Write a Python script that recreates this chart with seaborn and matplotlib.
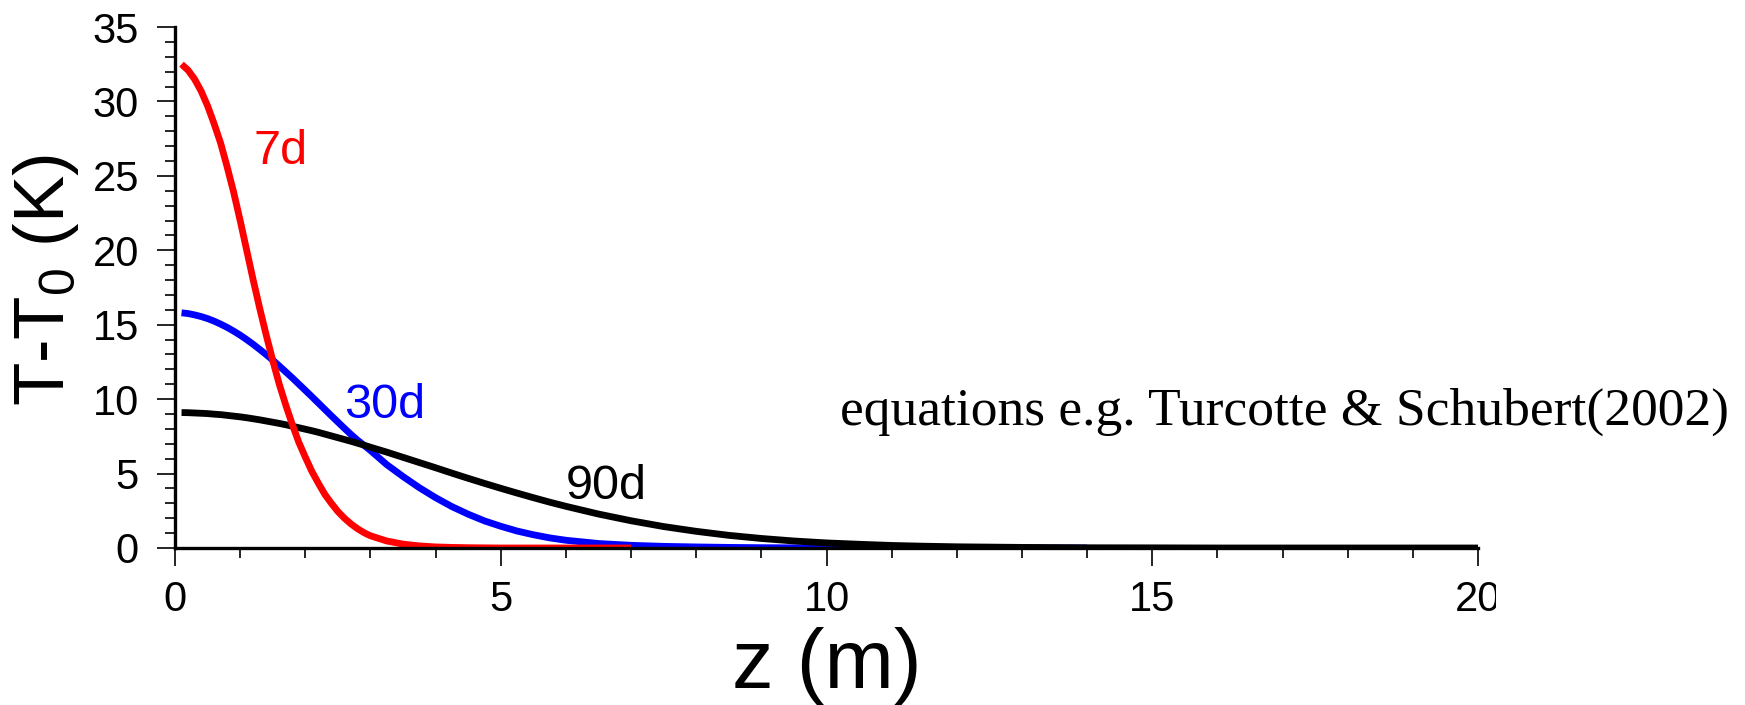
import numpy as np
import pandas as pd
import matplotlib
matplotlib.use("Agg")
import matplotlib.pyplot as plt
import seaborn as sns
from matplotlib.ticker import MultipleLocator
from matplotlib.transforms import Bbox

sns.set_style("ticks")
plt.rcParams["font.family"] = ["Liberation Sans", "DejaVu Sans"]
plt.rcParams["mathtext.default"] = "regular"
for key in ("text.color", "axes.labelcolor", "xtick.color", "ytick.color",
            "axes.edgecolor"):
    plt.rcParams[key] = "black"

# depth below the surface (m)
depth = [0.1, 0.2, 0.3, 0.4, 0.5, 0.6, 0.7, 0.8, 0.9, 1.0,
         1.1, 1.2, 1.3, 1.4, 1.5, 1.6, 1.7, 1.8, 1.9, 2.0,
         2.1, 2.2, 2.3, 2.4, 2.5, 2.6, 2.7, 2.8, 2.9, 3.0,
         3.25, 3.5, 3.75, 4.0, 4.25, 4.5, 4.75, 5.0, 5.25, 5.5, 5.75, 6.0,
         6.5, 7.0, 7.5, 8.0, 8.5, 9.0, 9.5, 10.0, 10.5, 11.0, 11.5, 12.0,
         13.0, 14.0, 15.0, 16.0, 17.0, 18.0, 19.0, 20.0]

nan = np.nan
# temperature excess T - T0 (K) after 7, 30 and 90 days
temp_7d = [32.5, 32.1, 31.5, 30.7, 29.7, 28.5, 27.2, 25.6, 23.9, 22.0,
           20.0, 18.0, 16.1, 14.3, 12.6, 11.0, 9.6, 8.3, 7.1, 6.1,
           5.15, 4.35, 3.6, 3.0, 2.45, 2.0, 1.62, 1.3, 1.03, 0.82,
           0.47, 0.26, 0.14, 0.07, 0.04, 0.02, 0.01, 0.0, 0.0, 0.0, 0.0, 0.0,
           0.0, 0.0] + [nan] * 18
temp_30d = [15.8, 15.75, 15.66, 15.55, 15.41, 15.24, 15.04, 14.82, 14.57, 14.3,
            14.0, 13.68, 13.34, 12.99, 12.62, 12.23, 11.83, 11.43, 11.01, 10.59,
            10.17, 9.74, 9.31, 8.88, 8.46, 8.04, 7.63, 7.25, 6.9, 6.55,
            5.6, 4.8, 4.05, 3.38, 2.78, 2.27, 1.82, 1.46, 1.14, 0.89, 0.68, 0.52,
            0.3, 0.18, 0.11, 0.07, 0.04, 0.02, 0.01, 0.0, 0.0, 0.0, 0.0, 0.0,
            0.0, 0.0] + [nan] * 6
temp_90d = [9.1, 9.09, 9.07, 9.05, 9.03, 8.99, 8.96, 8.91, 8.86, 8.81,
            8.75, 8.68, 8.61, 8.53, 8.45, 8.37, 8.28, 8.18, 8.08, 7.98,
            7.88, 7.77, 7.65, 7.53, 7.41, 7.29, 7.17, 7.04, 6.91, 6.77,
            6.44, 6.09, 5.74, 5.39, 5.03, 4.68, 4.34, 4.01, 3.69, 3.38, 3.08, 2.80,
            2.28, 1.83, 1.44, 1.12, 0.85, 0.64, 0.47, 0.34, 0.25, 0.17, 0.12, 0.08,
            0.04, 0.015, 0.01, 0.0, 0.0, 0.0, 0.0, 0.0]

periods = ["7d", "30d", "90d"]
colors = ["#ff0000", "#0000ff", "#000000"]
# curve annotations: (z, T - T0) of the left end of each label's baseline
label_pos = [(1.2, 25.8), (2.6, 8.75), (6.0, 3.3)]

df = pd.DataFrame({
    "z": depth * 3,
    "dT": temp_7d + temp_30d + temp_90d,
    "period": [p for p in periods for _ in depth],
}).dropna()

fig = plt.figure(figsize=(17.45, 7.05), dpi=100)
ax = fig.add_axes([0.1003, 0.2227, 0.7467, 0.739])

sns.lineplot(data=df, x="z", y="dT", hue="period",
             hue_order=["30d", "90d", "7d"],
             palette=dict(zip(periods, colors)),
             estimator=None, sort=False, legend=False, ax=ax)
for ln in ax.lines:
    ln.set_linewidth(4.9)
    ln.set_solid_capstyle("butt")
    ln.set_solid_joinstyle("round")

for name, col, (lx, ly) in zip(periods, colors, label_pos):
    ax.text(lx, ly, name, color=col, fontsize=35, ha="left", va="baseline")

ax.text(10.2, 8.3, "equations e.g. Turcotte & Schubert(2002)",
        family=["Liberation Serif"], fontsize=38.5, color="black",
        ha="left", va="baseline")

ax.set_xlim(0, 20)
ax.set_ylim(0, 35)
ax.xaxis.set_major_locator(MultipleLocator(5))
ax.xaxis.set_minor_locator(MultipleLocator(1))
ax.yaxis.set_major_locator(MultipleLocator(5))
ax.yaxis.set_minor_locator(MultipleLocator(1))

sns.despine(ax=ax)
for side in ("left", "bottom"):
    ax.spines[side].set_linewidth(2.4)
    ax.spines[side].set_color("black")
    ax.spines[side].set_zorder(5)

ax.tick_params(which="major", direction="out", length=13, width=1.2,
               color="black", labelsize=30, labelcolor="black")
ax.tick_params(which="minor", direction="out", length=7, width=1.2,
               color="black")
ax.tick_params(axis="y", which="major", pad=13)
ax.tick_params(axis="x", which="major", pad=10)

ax.set_xlabel("z (m)", fontsize=60, color="black")
ax.set_ylabel("T-T$_0$ (K)", fontsize=51, color="black")
ax.xaxis.set_label_coords(0.5, -0.151)
ax.yaxis.set_label_coords(-0.072, 0.514)

# the right-most x tick label is cut off at a fixed edge
fig.canvas.draw()
edge = Bbox.from_extents(0, 0, 1496, 705)
for tick in ax.xaxis.get_major_ticks():
    tick.label1.set_clip_box(edge)
    tick.label1.set_clip_on(True)

fig.savefig("out.png", dpi=100, facecolor="white")
